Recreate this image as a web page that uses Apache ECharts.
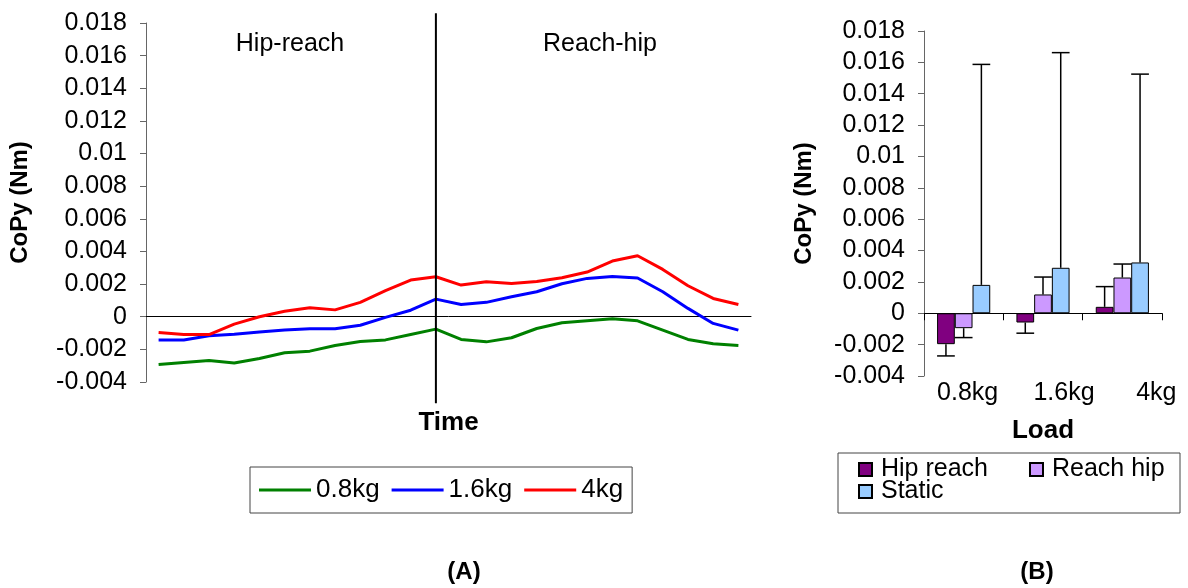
<!DOCTYPE html>
<html>
<head>
<meta charset="utf-8">
<script src="https://cdn.jsdelivr.net/npm/echarts@6/dist/echarts.min.js"></script>
<style>
  html, body { margin: 0; padding: 0; background: #fff; }
  #main { width: 1188px; height: 588px; }
</style>
</head>
<body>
<div id="main"></div>
<script>
// (A) CoPy over normalised time, hip-reach phase then reach-hip phase
const timeSteps = [1, 2, 3, 4, 5, 6, 7, 8, 9, 10, 11, 12, 13, 14, 15, 16, 17, 18, 19, 20, 21, 22, 23, 24];
const phaseSwitchStep = 12;
const copy08 = [-0.00293, -0.0028, -0.00268, -0.00283, -0.00256, -0.00221, -0.00211, -0.00176, -0.00152, -0.00142, -0.00109, -0.00076,
                -0.00139, -0.00154, -0.00129, -0.00072, -0.00037, -0.00025, -0.00013, -0.00025, -0.00082, -0.00139, -0.00166, -0.00176];
const copy16 = [-0.00142, -0.00142, -0.00117, -0.00107, -0.00094, -0.00082, -0.00074, -0.00074, -0.00052, -0.00004, 0.0004, 0.00108,
                0.00075, 0.00088, 0.00122, 0.00153, 0.00202, 0.00235, 0.00247, 0.00237, 0.00153, 0.00051, -0.00041, -0.00082];
const copy40 = [-0.00096, -0.00109, -0.00109, -0.00045, 0.0, 0.00034, 0.00055, 0.00042, 0.00088, 0.0016, 0.00225, 0.00245,
                0.00194, 0.00214, 0.00204, 0.00216, 0.00239, 0.00274, 0.00341, 0.00374, 0.0029, 0.0019, 0.00112, 0.00075];
const lineNames = ['0.8kg', '1.6kg', '4kg'];
const phaseNames = ['Hip-reach', 'Reach-hip'];

// (B) mean CoPy per load with one-sided error bars
const loads = ['0.8kg', '1.6kg', '4kg'];
const hipReach = [-0.00197, -0.00059, 0.00041];
const hipReachErr = [-0.00272, -0.00127, 0.0017];
const reachHip = [-0.00095, 0.0012, 0.00228];
const reachHipErr = [-0.00155, 0.00231, 0.00314];
const staticCoPy = [0.00181, 0.0029, 0.00324];
const staticErr = [0.01587, 0.01662, 0.01525];
const barNames = ['Hip reach', 'Reach hip', 'Static'];

const FONT = "'Liberation Sans', Arial, sans-serif";
const BAR_CAT_GAP = 0.33;

const chart = echarts.init(document.getElementById('main'), null, { renderer: 'canvas' });

const yAxisBase = {
  type: 'value', min: -0.004, max: 0.018, interval: 0.002,
  splitLine: { show: false },
  axisLine: { show: true, lineStyle: { color: '#666', width: 1 } },
  axisTick: { show: true, length: 6, lineStyle: { color: '#666' } },
  axisLabel: { color: '#000', fontSize: 25, fontFamily: FONT, margin: 19 },
  name: 'CoPy (Nm)', nameLocation: 'middle',
  nameTextStyle: { color: '#000', fontSize: 24, fontWeight: 'bold', fontFamily: FONT }
};

// per-label horizontal nudge of the load names
const labelShift = [8, 42, 68];
const rich = {};
labelShift.forEach((s, i) => {
  rich['p' + i] = { padding: [0, 0, 0, s], fontSize: 25, fontFamily: FONT, color: '#000' };
});

function errorBars(slot, means, ends) {
  return {
    type: 'custom', xAxisIndex: 2, yAxisIndex: 1, z: 5, silent: true,
    encode: { x: 0, y: [1, 2] },
    data: means.map((m, i) => [i, m, ends[i]]),
    renderItem(params, api) {
      const i = api.value(0);
      const band = api.size([1, 0])[0];
      const bw = band * (1 - BAR_CAT_GAP) / 3;
      const base = api.coord([i, api.value(1)]);
      const end = api.coord([i, api.value(2)]);
      const x = base[0] + (slot - 1) * bw;
      const half = bw * 0.5;
      const st = { stroke: '#000', lineWidth: 1.5 };
      return {
        type: 'group',
        children: [
          { type: 'line', shape: { x1: x, y1: base[1], x2: x, y2: end[1] }, style: st },
          { type: 'line', shape: { x1: x - half, y1: end[1], x2: x + half, y2: end[1] }, style: st }
        ]
      };
    }
  };
}

const barStyle = (c) => ({ color: c, borderColor: '#000', borderWidth: 1 });
const textEl = (x, y, text, size, weight) => ({
  type: 'text',
  style: { x: x, y: y, text: text, fontSize: size, fontWeight: weight || 'normal', fontFamily: FONT,
           fill: '#000', align: 'center', verticalAlign: 'middle' }
});

const graphics = [
  textEl(290, 44, phaseNames[0], 25),
  textEl(600, 44, phaseNames[1], 25),
  { type: 'rect', shape: { x: 838, y: 453, width: 342, height: 60 }, style: { fill: 'none', stroke: '#444', lineWidth: 1 }, z: -1 },
  textEl(464, 572, '(A)', 24, 'bold'),
  textEl(1037, 572, '(B)', 24, 'bold')
];

const option = {
  animation: false,
  backgroundColor: '#fff',
  textStyle: { fontFamily: FONT },
  grid: [
    { left: 146, right: 437, top: 23, bottom: 206, outerBoundsMode: 'none', containLabel: false },
    { left: 924, right: 26, top: 31, bottom: 212, outerBoundsMode: 'none', containLabel: false }
  ],
  xAxis: [
    { gridIndex: 0, type: 'category', data: timeSteps, boundaryGap: true,
      axisLine: { show: true, onZero: true, lineStyle: { color: '#000', width: 1 } },
      axisTick: { show: false }, axisLabel: { show: false }, splitLine: { show: false } },
    { gridIndex: 0, type: 'category', data: timeSteps, position: 'bottom',
      axisLine: { show: false, onZero: false }, axisTick: { show: false }, axisLabel: { show: false },
      name: 'Time', nameLocation: 'middle', nameGap: 28,
      nameTextStyle: { color: '#000', fontSize: 26, fontWeight: 'bold', fontFamily: FONT } },
    { gridIndex: 1, type: 'category', data: loads, boundaryGap: true,
      axisLine: { show: true, onZero: true, lineStyle: { color: '#000', width: 1 } },
      axisTick: { show: true, length: 7, inside: false, lineStyle: { color: '#000' } },
      axisLabel: { show: false }, splitLine: { show: false } },
    { gridIndex: 1, type: 'category', data: loads, position: 'bottom',
      axisLine: { show: false, onZero: false }, axisTick: { show: false },
      axisLabel: { show: true, interval: 0, margin: 5, fontSize: 25, fontFamily: FONT, color: '#000',
        formatter: (v, i) => '{p' + i + '|' + v + '}', rich: rich },
      name: 'Load', nameLocation: 'middle', nameGap: 42,
      nameTextStyle: { color: '#000', fontSize: 26, fontWeight: 'bold', fontFamily: FONT } }
  ],
  yAxis: [
    Object.assign({}, yAxisBase, { gridIndex: 0, nameGap: 114 }),
    Object.assign({}, yAxisBase, { gridIndex: 1, nameGap: 108 })
  ],
  legend: [
    { data: lineNames, left: 250, top: 467, orient: 'horizontal',
      padding: [10, 9, 10, 9], borderColor: '#444', borderWidth: 1,
      icon: 'rect', itemWidth: 52, itemHeight: 3, itemGap: 12,
      textStyle: { fontSize: 26, fontFamily: FONT, color: '#000', lineHeight: 25 } },
    { data: barNames.slice(0, 2), left: 858, top: 457, padding: 0,
      itemWidth: 13, itemHeight: 13, itemGap: 41, icon: 'rect',
      textStyle: { fontSize: 25, fontFamily: FONT, color: '#000', lineHeight: 25, padding: [0, 0, 0, 4] } },
    { data: barNames.slice(2), left: 858, top: 479, padding: 0,
      itemWidth: 13, itemHeight: 13, icon: 'rect',
      textStyle: { fontSize: 25, fontFamily: FONT, color: '#000', lineHeight: 25, padding: [0, 0, 0, 4] } }
  ],
  series: [
    { name: lineNames[0], type: 'line', xAxisIndex: 0, yAxisIndex: 0, data: copy08,
      symbol: 'none', lineStyle: { color: '#008000', width: 3 }, itemStyle: { color: '#008000' } },
    { name: lineNames[1], type: 'line', xAxisIndex: 0, yAxisIndex: 0, data: copy16,
      symbol: 'none', lineStyle: { color: '#0000FF', width: 3 }, itemStyle: { color: '#0000FF' } },
    { name: lineNames[2], type: 'line', xAxisIndex: 0, yAxisIndex: 0, data: copy40,
      symbol: 'none', lineStyle: { color: '#FF0000', width: 3 }, itemStyle: { color: '#FF0000' } },
    { name: barNames[0], type: 'bar', xAxisIndex: 2, yAxisIndex: 1, data: hipReach,
      barGap: '0%', barCategoryGap: (BAR_CAT_GAP * 100) + '%', itemStyle: barStyle('#800080') },
    { name: barNames[1], type: 'bar', xAxisIndex: 2, yAxisIndex: 1, data: reachHip,
      barGap: '0%', barCategoryGap: (BAR_CAT_GAP * 100) + '%', itemStyle: barStyle('#CC99FF') },
    { name: barNames[2], type: 'bar', xAxisIndex: 2, yAxisIndex: 1, data: staticCoPy,
      barGap: '0%', barCategoryGap: (BAR_CAT_GAP * 100) + '%', itemStyle: barStyle('#99CCFF') },
    errorBars(0, hipReach, hipReachErr),
    errorBars(1, reachHip, reachHipErr),
    errorBars(2, staticCoPy, staticErr)
  ],
  graphic: graphics
};

chart.setOption(option);

// vertical divider between the two phases, extended a little beyond the plot
const divTop = chart.convertToPixel({ xAxisIndex: 0, yAxisIndex: 0 }, [phaseSwitchStep - 1, 0.0186]);
const divBot = chart.convertToPixel({ xAxisIndex: 0, yAxisIndex: 0 }, [phaseSwitchStep - 1, -0.0053]);
chart.setOption({
  graphic: graphics.concat([
    { type: 'line', shape: { x1: divTop[0], y1: divTop[1], x2: divBot[0], y2: divBot[1] },
      style: { stroke: '#000', lineWidth: 2 }, z: 10 }
  ])
});
</script>
</body>
</html>
